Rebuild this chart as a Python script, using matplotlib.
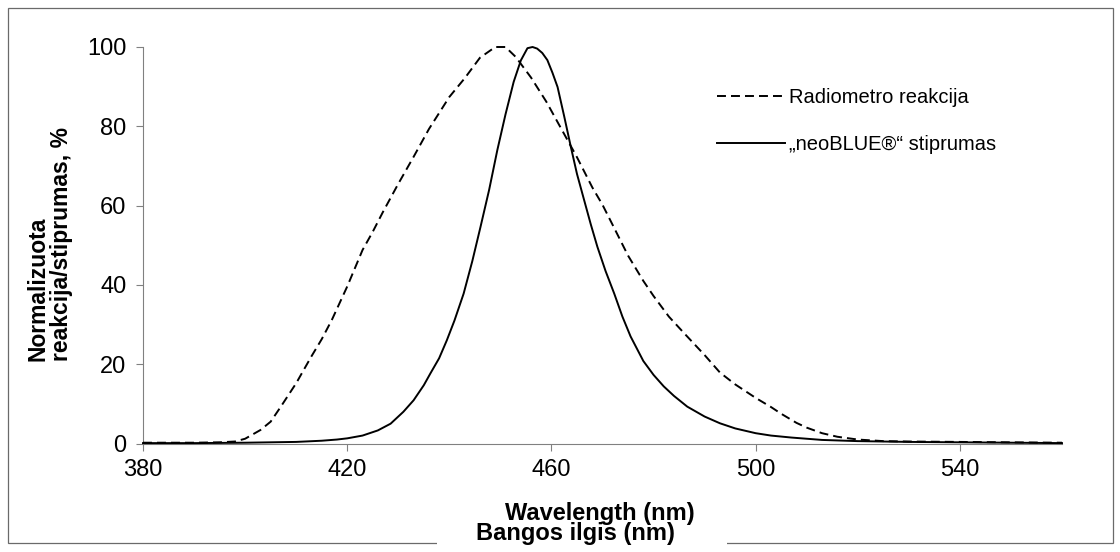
import matplotlib
matplotlib.use('Agg')
import matplotlib.pyplot as plt
from matplotlib.patches import Rectangle

plt.rcParams['font.family'] = ['Liberation Sans', 'DejaVu Sans']

# ---- data ----
radiometer_nm = [380, 385, 390, 395, 398, 400, 403, 405, 407, 410, 413, 415, 417, 420,
                 423, 425, 427, 430, 433, 436, 440, 443, 446, 449, 451, 453, 456, 459,
                 462, 465, 468, 470, 472, 475, 478, 480, 483, 486, 490, 493, 496, 500,
                 503, 505, 508, 510, 513, 516, 520, 525, 530, 540, 550, 560]
radiometer_pct = [0.2, 0.2, 0.2, 0.3, 0.5, 1.2, 3.4, 5.5, 9.3, 15.2, 22.0, 26.3, 31.2, 39.6,
                  48.8, 53.4, 58.4, 65.5, 72.3, 79.3, 87.4, 92.1, 97.3, 100, 100, 97.5, 92.3, 86.2,
                  79.2, 72.2, 64.6, 60.2, 55.1, 47.4, 41.0, 37.2, 32.0, 27.8, 22.3, 17.9, 14.9, 11.5,
                  9.2, 7.5, 5.2, 4.0, 2.6, 1.7, 1.0, 0.6, 0.5, 0.4, 0.3, 0.2]

neoblue_nm = [380, 390, 400, 405, 410, 415, 418, 420, 423, 426, 428.5, 431, 433, 435,
              436.3, 438, 439.5, 441, 442.8, 444.5, 446.1, 447.8, 449.4, 451, 452.6, 454,
              455.3, 456.3, 457.2, 458.2, 459.2, 460.2, 461.2, 462.5, 463.8, 465, 466.4,
              467.7, 469, 470.6, 472.3, 473.9, 475.5, 478, 480, 482, 484, 486.6, 490,
              493, 496, 500, 503, 507, 513, 520, 530, 540, 550, 560]
neoblue_pct = [0.1, 0.1, 0.2, 0.3, 0.4, 0.7, 1.0, 1.3, 2.0, 3.3, 5.0, 8.0, 10.9, 14.7,
               17.7, 21.5, 26.0, 31.0, 37.8, 46.0, 54.6, 64.0, 74.0, 83.0, 91.2, 96.6,
               99.7, 100, 99.6, 98.5, 96.7, 93.5, 89.9, 82.5, 74.8, 68.0, 61.4,
               55.3, 49.6, 43.5, 37.8, 32.0, 27.0, 20.8, 17.3, 14.4, 12.0, 9.3, 6.8,
               5.1, 3.8, 2.6, 2.0, 1.5, 0.9, 0.6, 0.4, 0.3, 0.2, 0.1]

x_ticks = [380, 420, 460, 500, 540]
y_ticks = [0, 20, 40, 60, 80, 100]
legend_labels = ['Radiometro reakcija', '\u201eneoBLUE\u00ae\u201c stiprumas']
y_label = 'Normalizuota\nreakcija/stiprumas, %'
x_label_en = 'Wavelength (nm)'
x_label_lt = 'Bangos ilgis (nm)'

# ---- figure ----
W, H = 1120, 552
fig = plt.figure(figsize=(W / 100, H / 100), dpi=100)
fig.patch.set_facecolor('white')

ax = fig.add_axes([143 / W, 1 - 443.5 / H, (1062 - 143) / W, (443.5 - 47) / H])
ax.set_facecolor('none')

dash = (0, (4.6, 2.6))
l1, = ax.plot(radiometer_nm, radiometer_pct, color='black', lw=1.4, linestyle=dash,
              clip_on=False, zorder=3)
l2, = ax.plot(neoblue_nm, neoblue_pct, color='black', lw=1.4, linestyle='-',
              clip_on=False, zorder=3)

ax.set_xlim(380, 560)
ax.set_ylim(0, 100)
ax.set_xticks(x_ticks)
ax.set_yticks(y_ticks)
for s in ['top', 'right']:
    ax.spines[s].set_visible(False)
for s in ['left', 'bottom']:
    ax.spines[s].set_color('#808080')
    ax.spines[s].set_linewidth(0.8)
ax.tick_params(axis='both', direction='out', length=5, width=0.8, color='#808080',
               labelsize=17, labelcolor='black')
ax.tick_params(axis='x', pad=6.5)
ax.tick_params(axis='y', pad=7)

ax.legend([l1, l2], legend_labels, loc='upper left',
          bbox_to_anchor=(717 / W, 1 - 88 / H), bbox_transform=fig.transFigure,
          frameon=False, borderpad=0, borderaxespad=0, handlelength=3.4,
          handletextpad=0.2, labelspacing=1.4, fontsize=14.5)

# y label
fig.text(50 / W, 1 - 244 / H, y_label, rotation=90, ha='center', va='center',
         multialignment='left', fontsize=16.5, fontweight='bold', linespacing=1.05)

# outer border
fig.add_artist(Rectangle((8 / W, 1 - 543 / H), (1113 - 8) / W, (543 - 8) / H,
                         transform=fig.transFigure, fill=False, edgecolor='#6a6a6a',
                         linewidth=0.9, zorder=1))

# x labels (the English one is partly hidden behind the Lithuanian label box)
fig.text(600 / W, 1 - 520 / H, x_label_en, ha='center', va='baseline',
         fontsize=17, fontweight='bold', zorder=3)
fig.add_artist(Rectangle((437 / W, 0), (727 - 437) / W, (552 - 525) / H,
                         transform=fig.transFigure, facecolor='white', edgecolor='none',
                         zorder=4))
fig.text(575 / W, 1 - 540 / H, x_label_lt, ha='center', va='baseline',
         fontsize=17, fontweight='bold', zorder=5)

fig.savefig('out.png', dpi=100)
